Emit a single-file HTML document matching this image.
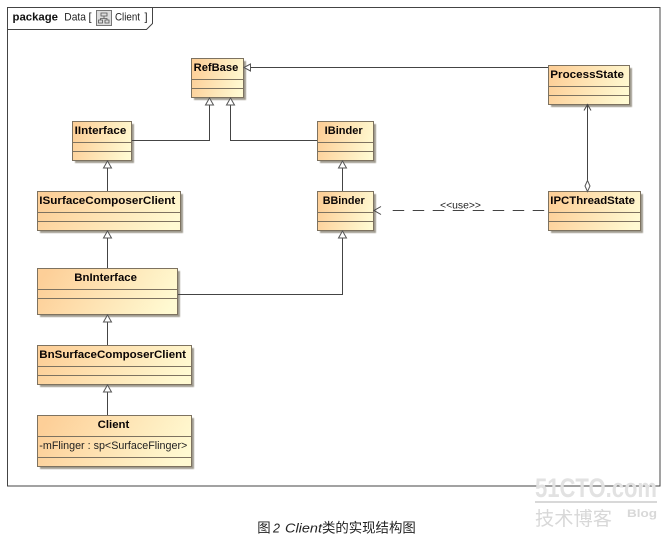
<!DOCTYPE html>
<html>
<head>
<meta charset="utf-8">
<style>
html,body{margin:0;padding:0;background:#fff;width:672px;height:540px;overflow:hidden}
svg{display:block}
.n{font:bold 11px "Liberation Sans",sans-serif;fill:#0a0505}
.t{font:11px "Liberation Sans",sans-serif;fill:#222}
.l{stroke:#444;stroke-width:1;fill:none}
.tri{stroke:#555;stroke-width:1;fill:#fff}
</style>
</head>
<body>
<svg width="672" height="540" viewBox="0 0 672 540" xmlns="http://www.w3.org/2000/svg">
<defs>
<linearGradient id="g" x1="0" y1="0.4" x2="1" y2="0.6">
<stop offset="0" stop-color="#fdcf98"/>
<stop offset="1" stop-color="#fffad2"/>
</linearGradient>
<filter id="b" x="-5%" y="-5%" width="110%" height="110%"><feGaussianBlur stdDeviation="0.5"/></filter>
</defs>

<!-- frame -->
<rect x="7.5" y="7.5" width="652.5" height="478.5" fill="#fff" stroke="#444"/>
<path class="l" d="M7.5 29.5H146.5L152.5 23.5V7.5"/>
<text x="12.5" y="20.5" style="font:bold 11px 'Liberation Sans',sans-serif" fill="#111" textLength="45.5" lengthAdjust="spacingAndGlyphs">package</text>
<text x="64.3" y="20.5" class="t" textLength="21.7" lengthAdjust="spacingAndGlyphs">Data</text>
<text x="88.5" y="20.5" class="t">[</text>
<rect x="96.5" y="10.5" width="15" height="15" fill="#ddd" stroke="#777"/>
<path d="M101 13h6v3h-6zM98.500 20h4v3h-4zM105 20h4v3h-4zM104 16v2.500M100.500 20v-1.500h6.500v1.500" fill="none" stroke="#555" stroke-width="0.8"/>
<text x="115" y="20.500" class="t" textLength="25" lengthAdjust="spacingAndGlyphs">Client</text>
<text x="144.500" y="20.500" class="t">]</text>

<!-- box shadows -->
<g fill="#a09c90" filter="url(#b)">
<rect x="194" y="61" width="52" height="39"/>
<rect x="75" y="124" width="59" height="39"/>
<rect x="40" y="194" width="143" height="39"/>
<rect x="40" y="271" width="140" height="46"/>
<rect x="40" y="348" width="154" height="39"/>
<rect x="40" y="418" width="154" height="51"/>
<rect x="320" y="124" width="56" height="39"/>
<rect x="320" y="194" width="56" height="39"/>
<rect x="551" y="68" width="81" height="39"/>
<rect x="551" y="194" width="92" height="39"/>
</g>

<!-- boxes -->
<g fill="url(#g)" stroke="#7d7260">
<rect x="191.500" y="58.500" width="52" height="39"/>
<rect x="72.500" y="121.500" width="59" height="39"/>
<rect x="37.500" y="191.500" width="143" height="39"/>
<rect x="37.500" y="268.500" width="140" height="46"/>
<rect x="37.500" y="345.500" width="154" height="39"/>
<rect x="37.500" y="415.500" width="154" height="51"/>
<rect x="317.500" y="121.500" width="56" height="39"/>
<rect x="317.500" y="191.500" width="56" height="39"/>
<rect x="548.500" y="65.500" width="81" height="39"/>
<rect x="548.500" y="191.500" width="92" height="39"/>
</g>

<!-- compartment lines -->
<g stroke="#7d7260" fill="none">
<path d="M191.500 79.500h52M191.500 88.500h52"/>
<path d="M72.500 142.500h59M72.500 151.500h59"/>
<path d="M37.500 212.500h143M37.500 221.500h143"/>
<path d="M37.500 289.500h140M37.500 298.500h140"/>
<path d="M37.500 366.500h154M37.500 375.500h154"/>
<path d="M37.500 436.500h154M37.500 457.500h154"/>
<path d="M317.500 142.500h56M317.500 151.500h56"/>
<path d="M317.500 212.500h56M317.500 221.500h56"/>
<path d="M548.500 86.500h81M548.500 95.500h81"/>
<path d="M548.500 212.500h92M548.500 221.500h92"/>
</g>

<!-- labels -->
<text class="n" x="193.700" y="71" textLength="44.600" lengthAdjust="spacingAndGlyphs">RefBase</text>
<text class="n" x="74.700" y="134" textLength="51.600" lengthAdjust="spacingAndGlyphs">IInterface</text>
<text class="n" x="39.300" y="204" textLength="136" lengthAdjust="spacingAndGlyphs">ISurfaceComposerClient</text>
<text class="n" x="74.300" y="281" textLength="62.700" lengthAdjust="spacingAndGlyphs">BnInterface</text>
<text class="n" x="39.300" y="358" textLength="146.700" lengthAdjust="spacingAndGlyphs">BnSurfaceComposerClient</text>
<text class="n" x="97.700" y="428" textLength="31.600" lengthAdjust="spacingAndGlyphs">Client</text>
<text class="t" x="39.300" y="449" textLength="148" lengthAdjust="spacingAndGlyphs">-mFlinger : sp&lt;SurfaceFlinger&gt;</text>
<text class="n" x="324.700" y="134" textLength="38" lengthAdjust="spacingAndGlyphs">IBinder</text>
<text class="n" x="322.700" y="204" textLength="42" lengthAdjust="spacingAndGlyphs">BBinder</text>
<text class="n" x="550.300" y="78" textLength="73.700" lengthAdjust="spacingAndGlyphs">ProcessState</text>
<text class="n" x="550.300" y="204" textLength="84.700" lengthAdjust="spacingAndGlyphs">IPCThreadState</text>

<!-- connectors -->
<g class="l">
<path class="l" d="M250 67.500H548"/>
<path class="l" d="M209.500 105V140.500H132"/>
<path class="l" d="M230.500 105V140.500H317"/>
<path class="l" d="M107.500 168V191"/>
<path class="l" d="M107.500 238V268"/>
<path class="l" d="M107.500 322V345"/>
<path class="l" d="M107.500 392V415"/>
<path class="l" d="M342.500 168V191"/>
<path class="l" d="M342.500 238V294.500H178"/>
<path class="l" d="M587.500 105V181"/>
<path class="l" d="M392.700 210.500H548" stroke-dasharray="11.500 8.500"/>
</g>

<!-- arrowheads -->
<path class="tri" d="M244 67.500l6.500-3.500v7z"/>
<path class="tri" d="M209.500 98l-4 7h8z"/>
<path class="tri" d="M230.500 98l-4 7h8z"/>
<path class="tri" d="M107.500 161l-4 7h8z"/>
<path class="tri" d="M107.500 231l-4 7h8z"/>
<path class="tri" d="M107.500 315l-4 7h8z"/>
<path class="tri" d="M107.500 385l-4 7h8z"/>
<path class="tri" d="M342.500 161l-4 7h8z"/>
<path class="tri" d="M342.500 231l-4 7h8z"/>
<path class="l" d="M584 110.500l3.500-6 3.500 6"/>
<path class="l" d="M381 206.500l-7 4 7 4"/>
<path class="tri" d="M587.500 180.500l2.500 5.500-2.500 5.500-2.500-5.500z"/>

<text x="440" y="208.500" style="font:10px 'Liberation Sans',sans-serif" fill="#222" textLength="41" lengthAdjust="spacingAndGlyphs">&lt;&lt;use&gt;&gt;</text>

<!-- watermark -->
<text x="535" y="497" style="font:bold 27px 'Liberation Sans',sans-serif" fill="#e2e2e2" textLength="122" lengthAdjust="spacingAndGlyphs">51CTO.com</text>
<rect x="535" y="501" width="122" height="2" fill="#d8d8d8"/>
<text x="535" y="525" style="font:19px 'Noto Sans CJK SC',sans-serif" fill="#d8d8d8" textLength="77" lengthAdjust="spacingAndGlyphs">技术博客</text>
<text x="627" y="517" style="font:bold 11px 'Liberation Sans',sans-serif" fill="#d8d8d8" textLength="30" lengthAdjust="spacingAndGlyphs">Blog</text>

<!-- caption -->
<text x="257.300" y="532.500" style="font:13.400px 'Noto Sans CJK SC',sans-serif" fill="#222">图</text>
<text x="273" y="532.500" style="font:italic 12.500px 'Liberation Sans',sans-serif" fill="#222">2</text>
<text x="285" y="532.500" style="font:italic 12.500px 'Liberation Sans',sans-serif" fill="#222" textLength="37" lengthAdjust="spacingAndGlyphs">Client</text>
<text x="322" y="532.500" style="font:13.400px 'Noto Sans CJK SC',sans-serif" fill="#222">类的实现结构图</text>
</svg>
</body>
</html>
